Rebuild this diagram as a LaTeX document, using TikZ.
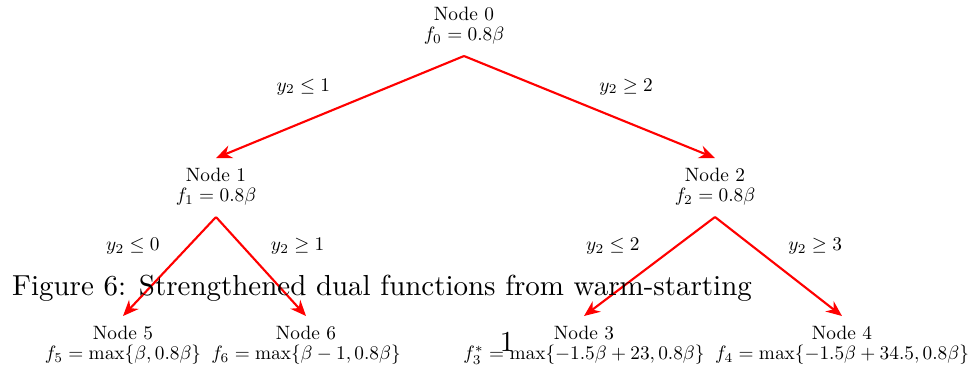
\documentclass[tikz,border=0pt]{standalone}
\usepackage{amsmath,amssymb,graphicx}
\usetikzlibrary{positioning,arrows.meta}
\newcommand{\shrunk}[1]{\scalebox{0.73}{\renewcommand{\arraystretch}{0.87}\begin{tabular}{@{}c@{}}#1\end{tabular}}}

\begin{document}
\begin{tikzpicture}[x=0.01329cm, y=-0.01329cm,
    tn/.style={align=center},
    br/.style={-{Stealth[length=6pt,width=5pt]}, red, thick},
    lb/.style={text=black}]
    \useasboundingbox (0,0) rectangle (978,368);
    % tree nodes
    \node[tn, anchor=south] (n0) at (464,56) {\shrunk{Node 0\\$f_0 = 0.8\beta$}};
    \node[tn, anchor=north] (n1) at (216,158) {\shrunk{Node 1\\$f_1 = 0.8\beta$}};
    \node[tn, anchor=north] (n2) at (715,158) {\shrunk{Node 2\\$f_2 = 0.8\beta$}};
    \node[tn, anchor=north] (n5) at (123,316) {\shrunk{Node 5\\$f_5 = \max\{\beta, 0.8\beta\}$}};
    \node[tn, anchor=north] (n6) at (306,316) {\shrunk{Node 6\\$f_6 = \max\{\beta-1, 0.8\beta\}$}};
    \node[tn, anchor=north] (n3) at (584,316) {\shrunk{Node 3\\$f_3^* = \max\{-1.5\beta+23, 0.8\beta\}$}};
    \node[tn, anchor=north] (n4) at (842,316) {\shrunk{Node 4\\$f_4 = \max\{-1.5\beta+34.5, 0.8\beta\}$}};
    % branches
    \draw[br] (n0.south) -- node[lb, above left=0pt] {\shrunk{$y_2 \leq 1$}} (n1.north);
    \draw[br] (n0.south) -- node[lb, above right=0pt] {\shrunk{$y_2 \geq 2$}} (n2.north);
    \draw[br] (n1.south) -- node[lb, above left=0pt] {\shrunk{$y_2 \leq 0$}} (n5.north);
    \draw[br] (n1.south) -- node[lb, above right=0pt] {\shrunk{$y_2 \geq 1$}} (n6.north);
    \draw[br] (n2.south) -- node[lb, above left=0pt] {\shrunk{$y_2 \leq 2$}} (n3.north);
    \draw[br] (n2.south) -- node[lb, above right=0pt] {\shrunk{$y_2 \geq 3$}} (n4.north);
    % caption and page number
    \node[font=\fontsize{10.95}{13.6}\selectfont] (cap) at (382,288) {Figure 6: Strengthened dual functions from warm-starting};
    \node[font=\fontsize{10.95}{13.6}\selectfont] (pg) at (507,342) {1};
\end{tikzpicture}
\end{document}
